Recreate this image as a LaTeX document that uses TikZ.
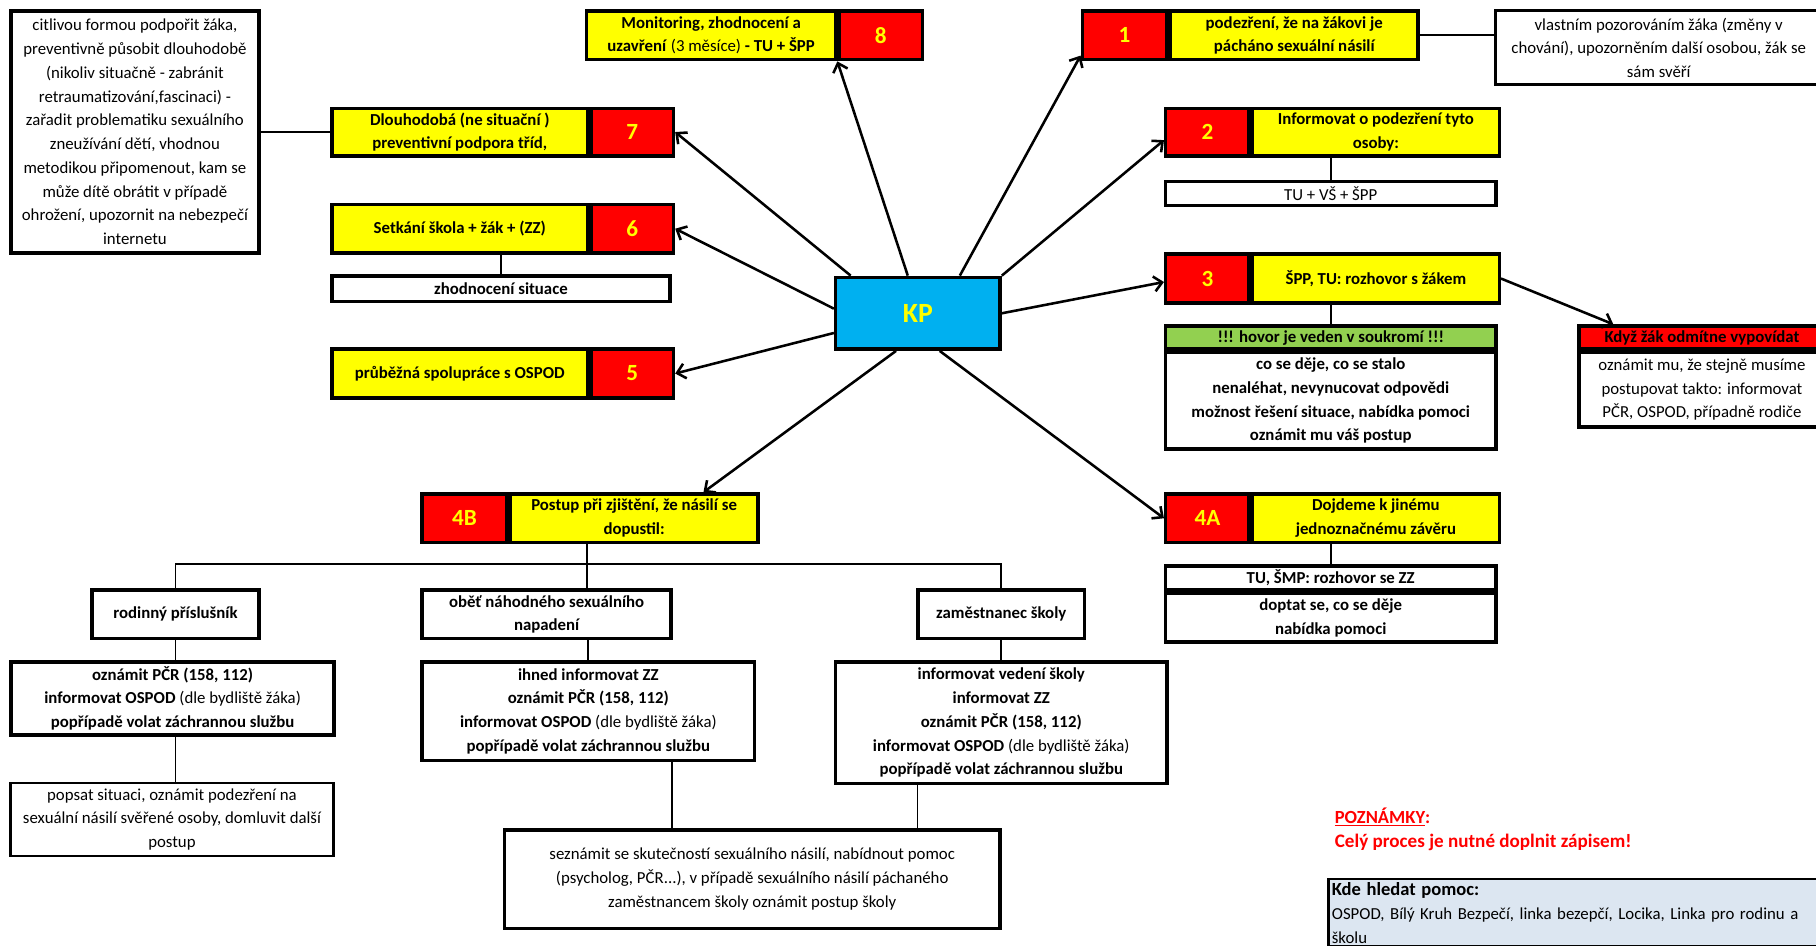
\documentclass[tikz,border=0pt]{standalone}
\usepackage{fontspec}
\setmainfont{Carlito}
\usepackage{xcolor}
\usepackage{tikz}
\usetikzlibrary{calc,arrows.meta,positioning}
\definecolor{numred}{HTML}{FF0000}
\definecolor{boxyellow}{HTML}{FFFF00}
\definecolor{kpblue}{HTML}{00B0F0}
\definecolor{okgreen}{HTML}{92D050}
\definecolor{notegray}{HTML}{DCE6F1}
\newcommand{\dsize}{\fontsize{14.5}{20.5}\selectfont}
\tikzset{
  box/.style={draw=black, line width=3pt, inner sep=0pt, anchor=north west, align=center, font=\dsize\bfseries},
  tbox/.style={box, fill=boxyellow},
  numb/.style={box, fill=numred, text=boxyellow, font=\fontsize{20}{24}\selectfont\bfseries},
  note/.style={box, fill=white, font=\dsize},
  link/.style={draw=black, line width=1.5pt},
  arr/.style={draw=black, line width=2.2pt, -{Straight Barb[length=7pt,width=13pt]}},
}

\begin{document}
\begin{tikzpicture}[x=1pt, y=-1pt]
\useasboundingbox[fill=white] (0,0) rectangle (1568,816);

% left column
\node[note, minimum width=214pt, minimum height=209pt] (pod) at (8,8) {citlivou formou podpořit žáka,\\preventivně působit dlouhodobě\\(nikoliv situačně - zabránit\\retraumatizování,fascinaci) -\\zařadit problematiku sexuálního\\zneužívání dětí, vhodnou\\metodikou připomenout, kam se\\může dítě obrátit v případě\\ohrožení, upozornit na nebezpečí\\internetu};
\node[tbox, minimum width=221pt, minimum height=41pt] (t7) at (285,92) {Dlouhodobá (ne situační )\\preventivní podpora tříd,};
\node[numb, minimum width=71pt, minimum height=41pt] (n7) at (t7.north east) {7};
\node[tbox, minimum width=221pt, minimum height=42pt] (t6) at (285,175) {Setkání škola + žák + (ZZ)};
\node[numb, minimum width=71pt, minimum height=42pt] (n6) at (t6.north east) {6};
\node[box, fill=white, minimum width=292pt, minimum height=22pt] (zhod) at (285,237) {zhodnocení situace};
\node[tbox, minimum width=221pt, minimum height=42pt] (t5) at (285,300) {průběžná spolupráce s OSPOD};
\node[numb, minimum width=71pt, minimum height=42pt] (n5) at (t5.north east) {5};

% top row
\node[tbox, minimum width=215pt, minimum height=42pt] (t8) at (505,8) {Monitoring, zhodnocení a\\uzavření \textmd{(3 měsíce)} - TU + ŠPP};
\node[numb, minimum width=72pt, minimum height=42pt] (n8) at (t8.north east) {8};
\node[numb, minimum width=73pt, minimum height=42pt] (n1) at (933,8) {1};
\node[tbox, minimum width=214pt, minimum height=42pt] (t1) at (n1.north east) {podezření, že na žákovi je\\pácháno sexuální násilí};
\node[note, line width=2.4pt, minimum width=282pt, minimum height=64pt] (obs) at (1290,8) {vlastním pozorováním žáka (změny v\\chování), upozorněním další osobou, žák se\\sám svěří};

% centre
\node[box, fill=kpblue, text=boxyellow, font=\fontsize{24}{26}\selectfont\bfseries, minimum width=142pt, minimum height=62pt] (kp) at (720,238) {KP};

% right column
\node[numb, minimum width=72pt, minimum height=41pt] (n2) at (1005,92) {2};
\node[tbox, minimum width=213pt, minimum height=41pt] (t2) at (n2.north east) {Informovat o podezření tyto\\osoby:};
\node[note, minimum width=285pt, minimum height=21pt] (tuvs) at (1005,155) {TU + VŠ + ŠPP};
\node[numb, minimum width=72pt, minimum height=42pt] (n3) at (1005,218) {3};
\node[tbox, minimum width=213pt, minimum height=42pt] (t3) at (n3.north east) {ŠPP, TU: rozhovor s žákem};
\node[box, fill=okgreen, minimum width=285pt, minimum height=20pt] (hovorhd) at (1005,280) {!!! hovor je veden v soukromí !!!};
\node[box, fill=white, minimum width=285pt, minimum height=83pt] (hovor) at (hovorhd.south west) {co se děje, co se stalo\\nenaléhat, nevynucovat odpovědi\\možnost řešení situace, nabídka pomoci\\oznámit mu váš postup};
\node[box, fill=numred, minimum width=212pt, minimum height=20pt] (kdyzhd) at (1362,280) {Když žák odmítne vypovídat};
\node[note, minimum width=212pt, minimum height=64pt] (kdyz) at (kdyzhd.south west) {oznámit mu, že stejně musíme\\postupovat takto: informovat\\PČR, OSPOD, případně rodiče};
\node[numb, minimum width=72pt, minimum height=42pt] (n4a) at (1005,425) {4A};
\node[tbox, minimum width=213pt, minimum height=42pt] (t4a) at (n4a.north east) {Dojdeme k jinému\\jednoznačnému závěru};
\node[box, fill=white, minimum width=285pt, minimum height=21pt] (smphd) at (1005,487) {TU, ŠMP: rozhovor se ZZ};
\node[box, fill=white, minimum width=285pt, minimum height=42pt] (smp) at (smphd.south west) {doptat se, co se děje\\nabídka pomoci};

% 4B branch
\node[numb, minimum width=73pt, minimum height=42pt] (n4b) at (363,425) {4B};
\node[tbox, minimum width=214pt, minimum height=42pt] (t4b) at (n4b.north east) {Postup při zjištění, že násilí se\\dopustil:};
\node[box, fill=white, minimum width=144pt, minimum height=42pt] (rod) at (78,508) {rodinný příslušník};
\node[box, fill=white, minimum width=215pt, minimum height=42pt] (obet) at (363,508) {oběť náhodného sexuálního\\napadení};
\node[box, fill=white, minimum width=144pt, minimum height=42pt] (zam) at (791,508) {zaměstnanec školy};
\node[box, fill=white, minimum width=279pt, minimum height=63pt] (ozn) at (8,570) {oznámit PČR (158, 112)\\informovat OSPOD \textmd{(dle bydliště žáka)}\\popřípadě volat záchrannou službu};
\node[box, fill=white, minimum width=287pt, minimum height=85pt] (ihned) at (363,570) {ihned informovat ZZ\\oznámit PČR (158, 112)\\informovat OSPOD \textmd{(dle bydliště žáka)}\\popřípadě volat záchrannou službu};
\node[box, fill=white, minimum width=286pt, minimum height=105pt] (ved) at (720,570) {informovat vedení školy\\informovat ZZ\\oznámit PČR (158, 112)\\informovat OSPOD \textmd{(dle bydliště žáka)}\\popřípadě volat záchrannou službu};
\node[note, line width=2pt, minimum width=279pt, minimum height=63pt] (popsat) at (8,675) {popsat situaci, oznámit podezření na\\sexuální násilí svěřené osoby, domluvit další\\postup};
\node[note, minimum width=428pt, minimum height=85pt] (sez) at (434,715) {seznámit se skutečností sexuálního násilí, nabídnout pomoc\\(psycholog, PČR...), v případě sexuálního násilí páchaného\\zaměstnancem školy oznámit postup školy};

% notes
\node[anchor=west, text=numred, font=\fontsize{16}{20}\selectfont\bfseries] (pozn) at (1149,705) {\underline{POZNÁMKY}:};
\node[anchor=west, text=numred, font=\fontsize{16.5}{20}\selectfont\bfseries] (cely) at (1149,727) {Celý proces je nutné doplnit zápisem!};
\node[draw=black, line width=2pt, fill=notegray, anchor=north west, align=left, text width=440pt, inner sep=3pt, font=\dsize] (kde) at (1146,758) {{\fontsize{16}{20.5}\selectfont\bfseries Kde hledat pomoc:}\\OSPOD, Bílý Kruh Bezpečí, linka bezepčí, Locika, Linka pro rodinu a\\školu};

% connectors
\draw[link] (pod.east) -- (t7.west);
\draw[link] (t1.east) -- (t1.east -| obs.west);
\draw[link] (zhod.north) -- (zhod.north |- t6.south);
\draw[link] (tuvs.north) -- (tuvs.north |- t2.south);
\draw[link] (hovorhd.north) -- (hovorhd.north |- t3.south);
\draw[link] (smphd.north) -- (smphd.north |- t4a.south);
\coordinate (bus) at (507,487);
\draw[link] (bus |- t4b.south) -- (bus);
\draw[link] (rod.north) |- (bus) -| (zam.north);
\draw[link] (bus) -- (bus |- obet.north);
\draw[link] (rod.south) -- (rod.south |- ozn.north);
\draw[link] (ihned.north) -- (ihned.north |- obet.south);
\draw[link] (zam.south) -- (ved.north);
\draw[link] (rod.south |- ozn.south) -- (rod.south |- popsat.north);
\coordinate (s1) at ($(ihned.south west)!0.75!(ihned.south east)$);
\coordinate (s2) at ($(ved.south west)!0.25!(ved.south east)$);
\draw[link] (s1) -- (s1 |- sez.north);
\draw[link] (s2) -- (s2 |- sez.north);

% arrows out of KP
\draw[arr] ($(kp.north west)!0.1!(kp.north east)$) -- (n7.east);
\draw[arr] ($(kp.north west)!0.44!(kp.north east)$) -- (n8.south west);
\draw[arr] ($(kp.north west)!0.75!(kp.north east)$) -- ([yshift=5pt]n1.south west);
\draw[arr] (kp.north east) -- ([yshift=-7pt]n2.west);
\draw[arr] ([yshift=4pt]kp.west) -- (n6.east);
\draw[arr] ([yshift=-17pt]kp.west) -- (n5.east);
\draw[arr] (kp.east) -- ([yshift=-3pt]n3.west);
\draw[arr] ($(kp.south west)!0.37!(kp.south east)$) -- ($(t4b.north west)!0.776!(t4b.north east)$);
\draw[arr] ($(kp.south west)!0.63!(kp.south east)$) -- (n4a.west);
\draw[arr] (t3.east) -- ([xshift=31pt]kdyzhd.north west);
\end{tikzpicture}
\end{document}
